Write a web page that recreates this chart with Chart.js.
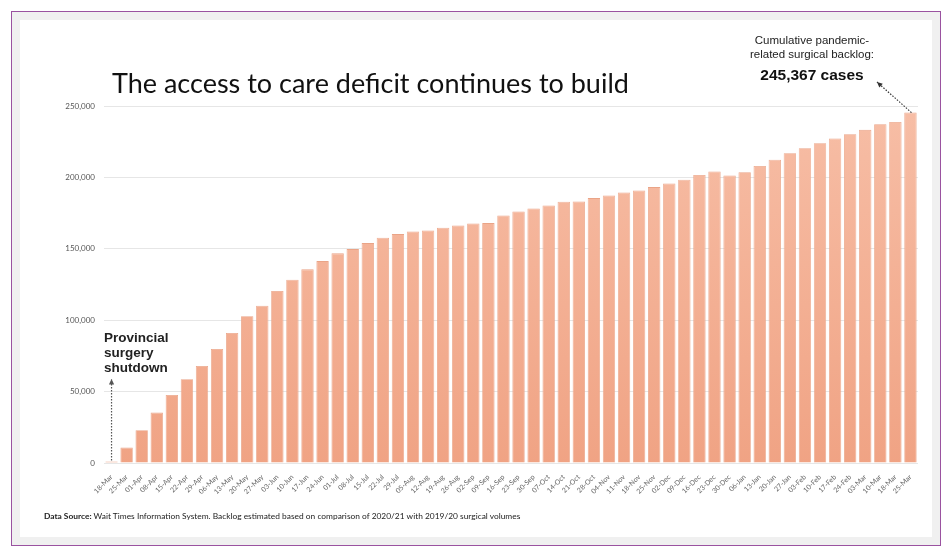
<!DOCTYPE html>
<html>
<head>
<meta charset="utf-8">
<script src="https://cdn.jsdelivr.net/npm/chart.js@4.4.1/dist/chart.umd.min.js"></script>
<style>
  body { margin: 0; width: 951px; height: 555px; overflow: hidden; position: relative; background: #fff; font-family: Lato, sans-serif; }
  #frame { position: absolute; left: 11px; top: 11px; width: 930px; height: 535px; box-sizing: border-box; border: 1.5px solid #9a52a0; background: #f0f0f0; }
  #panel { position: absolute; left: 20px; top: 20px; width: 912px; height: 517px; background: #fff; }
  canvas { position: absolute; left: 0; top: 0; }
  .txt { position: absolute; white-space: nowrap; }
  #title { left: 112px; top: 66px; font-size: 27px; color: #111; }
  #note { left: 742px; top: 33px; width: 140px; text-align: center; font-family: "Liberation Sans", Arial, sans-serif; font-size: 11.5px; line-height: 14px; color: #222; }
  #note b { display: block; font-size: 15.5px; line-height: 27px; color: #111; }
  #shut { left: 104px; top: 330px; font-family: "Liberation Sans", Arial, sans-serif; font-weight: bold; font-size: 13.5px; line-height: 15px; color: #222; }
  #source { left: 44px; top: 511px; font-size: 8.4px; color: #222; }
</style>
</head>
<body>
<div id="frame"></div>
<div id="panel"></div>
<canvas id="backlogChart" width="951" height="555"></canvas>
<div class="txt" id="title">The access to care deficit continues to build</div>
<div class="txt" id="note">Cumulative pandemic-<br>related surgical backlog:<b>245,367 cases</b></div>
<div class="txt" id="shut">Provincial<br>surgery<br>shutdown</div>
<div class="txt" id="source"><b>Data Source:</b> Wait Times Information System. Backlog estimated based on comparison of 2020/21 with 2019/20 surgical volumes</div>

<script>
  const semanas = ['18-Mar', '25-Mar', '01-Apr', '08-Apr', '15-Apr', '22-Apr', '29-Apr', '06-May', '13-May', '20-May',
    '27-May', '03-Jun', '10-Jun', '17-Jun', '24-Jun', '01-Jul', '08-Jul', '15-Jul', '22-Jul', '29-Jul',
    '05-Aug', '12-Aug', '19-Aug', '26-Aug', '02-Sep', '09-Sep', '16-Sep', '23-Sep', '30-Sep', '07-Oct',
    '14-Oct', '21-Oct', '28-Oct', '04-Nov', '11-Nov', '18-Nov', '25-Nov', '02-Dec', '09-Dec', '16-Dec',
    '23-Dec', '30-Dec', '06-Jan', '13-Jan', '20-Jan', '27-Jan', '03-Feb', '10-Feb', '17-Feb', '24-Feb',
    '03-Mar', '10-Mar', '18-Mar', '25-Mar'];

  const backlog = [1000, 10800, 22900, 35300, 47700, 58700, 68000, 79900, 91100, 102800,
    110100, 120400, 128300, 135600, 141400, 146800, 149800, 154000, 157700, 160300,
    162200, 162900, 164700, 166400, 167800, 168000, 173400, 176200, 178300, 180400,
    182900, 183200, 185500, 187400, 189500, 190900, 193200, 195800, 198400, 201700,
    204200, 201400, 203600, 208000, 212400, 216900, 220400, 223900, 227200, 230200,
    233300, 237200, 238800, 245367];

  const yMax = 250000;
  const yStep = 50000;

  // setas pontilhadas das anotações
  function dottedArrow(ctx, x1, y1, x2, y2, color) {
    ctx.save();
    ctx.strokeStyle = color;
    ctx.fillStyle = color;
    ctx.lineWidth = 1.2;
    ctx.setLineDash([1.5, 1.5]);
    ctx.beginPath();
    ctx.moveTo(x1, y1);
    ctx.lineTo(x2, y2);
    ctx.stroke();
    ctx.setLineDash([]);
    const ang = Math.atan2(y2 - y1, x2 - x1);
    ctx.beginPath();
    ctx.moveTo(x2, y2);
    ctx.lineTo(x2 - 6 * Math.cos(ang - 0.45), y2 - 6 * Math.sin(ang - 0.45));
    ctx.lineTo(x2 - 6 * Math.cos(ang + 0.45), y2 - 6 * Math.sin(ang + 0.45));
    ctx.closePath();
    ctx.fill();
    ctx.restore();
  }

  const setas = {
    id: 'setas',
    afterDatasetsDraw(chart) {
      const ctx = chart.ctx;
      const bars = chart.getDatasetMeta(0).data;
      const first = bars[0];
      dottedArrow(ctx, first.x, first.y - 1, first.x, 379, '#555');
      const last = bars[bars.length - 1];
      dottedArrow(ctx, last.x + 1, last.y, 877, 82, '#333');
    }
  };

  const ctx = document.getElementById('backlogChart').getContext('2d');
  const backlogChart = new Chart(ctx, {
    type: 'bar',
    data: {
      labels: semanas,
      datasets: [{
        data: backlog,
        backgroundColor: (c) => {
          const area = c.chart.chartArea;
          if (!area) return '#f3ad92';
          const g = c.chart.ctx.createLinearGradient(0, area.top, 0, area.bottom);
          g.addColorStop(0, '#f7bea6');
          g.addColorStop(1, '#f0a384');
          return g;
        },
        borderColor: '#eaa487',
        borderWidth: 0.8,
        categoryPercentage: 1,
        barPercentage: 0.82
      }]
    },
    options: {
      responsive: false,
      animation: false,
      layout: { padding: { left: 60, right: 33, top: 106, bottom: 52 } },
      plugins: { legend: { display: false }, tooltip: { enabled: false } },
      scales: {
        x: {
          grid: { display: false },
          border: { display: false },
          afterFit: (s) => { s.height = 40; },
          ticks: {
            autoSkip: false,
            minRotation: 45,
            maxRotation: 45,
            padding: 2,
            color: '#666',
            font: { family: 'Lato', size: 7 }
          }
        },
        y: {
          min: 0,
          max: yMax,
          afterFit: (s) => { s.width = 44; },
          grid: { color: '#e6e6e6', drawTicks: false },
          border: { display: false },
          ticks: {
            stepSize: yStep,
            padding: 9,
            color: '#555',
            font: { family: 'Lato', size: 8 },
            callback: (v) => v.toLocaleString('en-US')
          }
        }
      }
    },
    plugins: [setas]
  });
</script>
</body>
</html>
